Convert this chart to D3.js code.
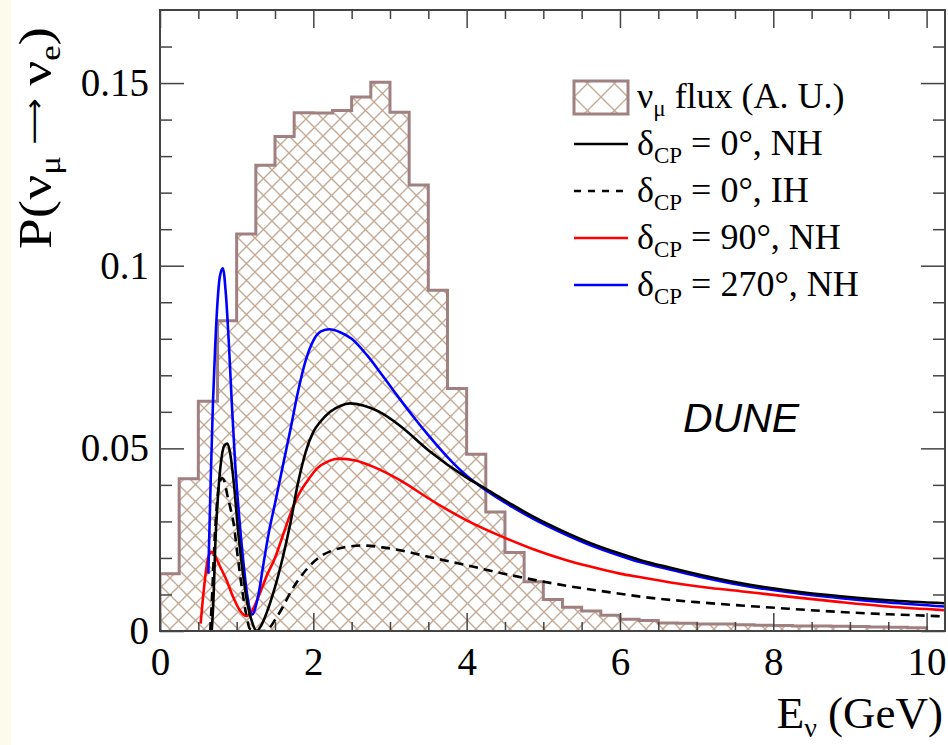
<!DOCTYPE html>
<html>
<head>
<meta charset="utf-8">
<script src="https://cdn.jsdelivr.net/npm/d3@7"></script>
<style>
  body { margin: 0; background: #fff; }
  svg { display: block; }
  text { font-family: "Liberation Serif", "Times New Roman", serif; fill: #000; }
</style>
</head>
<body>
<div id="chart"></div>
<script>
const width = 948;
const height = 745;
const margin = { top: 10, right: 3, bottom: 114, left: 160 };

// nu_mu flux, 0.25 GeV bins from 0 to 10 GeV (arbitrary units)
const fluxBinWidth = 0.25;
const fluxValues = [
  0.0157, 0.0417, 0.0629, 0.0849, 0.1087, 0.1275, 0.1354, 0.1419,
  0.1418, 0.1425, 0.1462, 0.1502, 0.142, 0.1221, 0.0933, 0.0664,
  0.0484, 0.0326, 0.0215, 0.0135, 0.0086, 0.0065, 0.0055, 0.0043,
  0.0032, 0.0029, 0.0022, 0.0021, 0.0019, 0.0019, 0.0017, 0.0016,
  0.0015, 0.0014, 0.0014, 0.0013, 0.0012, 0.0011, 0.001, 0.0009,
];

// [E (GeV), P(numu -> nue)]
const cp0NH = [
  [0.675, 0.0], [0.7, 0.01], [0.72, 0.023], [0.76, 0.038], [0.8, 0.047],
  [0.84, 0.0508], [0.88, 0.0513], [0.92, 0.048], [0.97, 0.039], [1.02, 0.027],
  [1.08, 0.016], [1.14, 0.0075], [1.2, 0.0025], [1.26, 0.0], [1.32, 0.0015],
  [1.4, 0.0055], [1.5, 0.012], [1.6, 0.02], [1.7, 0.0294], [1.8, 0.0405],
  [1.9, 0.049], [2.0, 0.0545], [2.1, 0.0575], [2.22, 0.06], [2.35, 0.0616],
  [2.48, 0.0623], [2.65, 0.0617], [2.85, 0.0601], [3.13, 0.0562], [3.5, 0.0495],
  [4.0, 0.042], [4.26, 0.0388], [4.6, 0.0345], [4.87, 0.0313], [5.27, 0.0272],
  [5.6, 0.0242], [6.0, 0.0212], [6.27, 0.0194], [6.66, 0.0173], [7.1, 0.0151],
  [7.57, 0.0131], [8.2, 0.0111], [8.88, 0.0095], [9.5, 0.0084], [10.24, 0.0076],
];

const cp0IH = [
  [0.655, 0.0], [0.68, 0.01], [0.71, 0.024], [0.74, 0.034], [0.77, 0.04],
  [0.81, 0.0418], [0.84, 0.041], [0.88, 0.037], [0.92, 0.0335], [0.96, 0.0295],
  [1.01, 0.021], [1.07, 0.0115], [1.12, 0.005], [1.175, 0.0005], [1.25, 0.0],
  [1.35, 0.0], [1.41, 0.0005], [1.5, 0.003], [1.6, 0.0065], [1.7, 0.0105],
  [1.83, 0.0147], [1.98, 0.0184], [2.1, 0.0205], [2.26, 0.0221], [2.45, 0.0231],
  [2.65, 0.0234], [2.9, 0.0229], [3.2, 0.0218], [3.525, 0.0202], [4.0, 0.018],
  [4.44, 0.0159], [4.83, 0.0142], [5.3, 0.0124], [6.0, 0.0102], [6.27, 0.0094],
  [6.57, 0.0087], [7.0, 0.0079], [7.57, 0.007], [8.2, 0.0061], [8.88, 0.0052],
  [9.5, 0.0046], [10.24, 0.004],
];

const cp90NH = [
  [0.53, 0.002], [0.57, 0.011], [0.61, 0.018], [0.65, 0.0213], [0.68, 0.0216],
  [0.72, 0.0205], [0.78, 0.0178], [0.87, 0.0138], [0.95, 0.0095], [1.04, 0.0057],
  [1.13, 0.0041], [1.2, 0.0055], [1.3, 0.0102], [1.4, 0.0155], [1.5, 0.02],
  [1.6, 0.026], [1.7, 0.032], [1.8, 0.037], [1.92, 0.041], [2.05, 0.0445],
  [2.2, 0.0465], [2.33, 0.0472], [2.55, 0.0467], [2.8, 0.0448], [3.13, 0.0413],
  [3.525, 0.036], [4.0, 0.0303], [4.5, 0.0255], [4.87, 0.0224], [5.27, 0.0196],
  [5.6, 0.0177], [6.0, 0.0157], [6.27, 0.0147], [6.66, 0.0133], [7.1, 0.012],
  [7.57, 0.0109], [8.2, 0.0094], [8.88, 0.0079], [9.5, 0.0067], [10.24, 0.0057],
];

const cp270NH = [
  [0.63, 0.0157], [0.66, 0.04], [0.69, 0.062], [0.72, 0.078], [0.75, 0.09],
  [0.78, 0.097], [0.82, 0.0993], [0.86, 0.092], [0.9, 0.078], [0.94, 0.061],
  [0.98, 0.046], [1.03, 0.032], [1.09, 0.0184], [1.14, 0.0095], [1.2, 0.0045],
  [1.28, 0.0095], [1.35, 0.0184], [1.42, 0.027], [1.5, 0.0349], [1.6, 0.045],
  [1.7, 0.055], [1.8, 0.0655], [1.9, 0.074], [2.0, 0.0795], [2.1, 0.082],
  [2.21, 0.0826], [2.35, 0.0818], [2.5, 0.08], [2.7, 0.0755], [2.9, 0.07],
  [3.1, 0.0643], [3.3, 0.0588], [3.5, 0.0536], [3.75, 0.0476], [4.0, 0.0425],
  [4.26, 0.0384], [4.6, 0.0339], [4.87, 0.0307], [5.27, 0.0266], [5.6, 0.0236],
  [6.0, 0.0206], [6.27, 0.0188], [6.66, 0.0168], [7.1, 0.0146], [7.57, 0.0126],
  [8.2, 0.0106], [8.88, 0.009], [9.5, 0.0078], [10.24, 0.0067],
];

const xMajorTicks = [0, 2, 4, 6, 8, 10];
const yMajorTicks = [0, 0.05, 0.1, 0.15];

const fluxColor = "#a08080";
const hatchColor = "#c4a994";

const xScale = d3
  .scaleLinear()
  .domain([0, 10.24])
  .range([margin.left, width - margin.right]);

const yScale = d3
  .scaleLinear()
  .domain([0, 0.17])
  .range([height - margin.bottom, margin.top]);

const svg = d3
  .select("#chart")
  .append("svg")
  .attr("width", width)
  .attr("height", height);

// faint cream strip on the left border of the original figure
svg.append("rect").attr("x", 0).attr("y", 0).attr("width", 11).attr("height", height).attr("fill", "#fdfbec");

const defs = svg.append("defs");

const addHatch = (id, s, w) => {
  defs
    .append("pattern")
    .attr("id", id)
    .attr("patternUnits", "userSpaceOnUse")
    .attr("width", s)
    .attr("height", s)
    .append("path")
    .attr("d", `M0,0L${s},${s}M0,${s}L${s},0M-2,2L2,-2M${s - 2},${s + 2}L${s + 2},${s - 2}M-2,${s - 2}L2,${s + 2}M${s - 2},-2L${s + 2},2`)
    .attr("stroke", hatchColor)
    .attr("stroke-width", w);
};
addHatch("hatch", 17, 1.4);
addHatch("hatch-legend", 27, 1.4);

defs
  .append("clipPath")
  .attr("id", "plot-clip")
  .append("rect")
  .attr("x", margin.left)
  .attr("y", margin.top)
  .attr("width", width - margin.left - margin.right)
  .attr("height", height - margin.top - margin.bottom);

const plot = svg.append("g").attr("clip-path", "url(#plot-clip)");

// flux histogram as a step outline
const fluxSteps = [[0, 0]];
fluxValues.forEach((v, i) => {
  fluxSteps.push([i * fluxBinWidth, v]);
  fluxSteps.push([(i + 1) * fluxBinWidth, v]);
});
fluxSteps.push([fluxValues.length * fluxBinWidth, 0]);

const stepLine = d3
  .line()
  .x((d) => xScale(d[0]))
  .y((d) => yScale(d[1]));

plot
  .append("path")
  .attr("d", stepLine(fluxSteps) + "Z")
  .attr("fill", "url(#hatch)")
  .attr("stroke", "none");

plot
  .append("path")
  .attr("d", stepLine(fluxSteps))
  .attr("fill", "none")
  .attr("stroke", fluxColor)
  .attr("stroke-width", 3);

// probability curves
const curveLine = d3
  .line()
  .x((d) => xScale(d[0]))
  .y((d) => yScale(d[1]))
  .curve(d3.curveMonotoneX);

const series = [
  { data: cp0IH, color: "#000", dash: "9,6" },
  { data: cp90NH, color: "#ff0000", dash: null },
  { data: cp270NH, color: "#0000ff", dash: null },
  { data: cp0NH, color: "#000", dash: null },
];

series.forEach((s) => {
  plot
    .append("path")
    .attr("d", curveLine(s.data))
    .attr("fill", "none")
    .attr("stroke", s.color)
    .attr("stroke-width", 2.6)
    .attr("stroke-dasharray", s.dash);
});

// axes: ticks on all four sides, pointing inward
const xMinorTicks = d3.range(0.5, 10.01, 0.5).filter((d) => d % 2 !== 0);
const yMinorTicks = d3.range(0.01, 0.165, 0.01).filter((d) => Math.abs(d / 0.05 - Math.round(d / 0.05)) > 1e-6);

const axisColor = "#444";
const bottomY = height - margin.bottom;
const rightX = width - margin.right;

const styleAxis = (g) => {
  g.select(".domain").remove();
  g.selectAll("line").attr("stroke", axisColor).attr("stroke-width", 1.5);
  g.selectAll("text")
    .style("font-family", '"Liberation Serif", serif')
    .style("font-size", "39px")
    .attr("fill", "#000");
};

svg
  .append("g")
  .attr("transform", `translate(0, ${bottomY})`)
  .call(d3.axisBottom(xScale).tickValues(xMajorTicks).tickSize(-18).tickPadding(16).tickFormat(d3.format("d")))
  .call(styleAxis);

svg
  .append("g")
  .attr("transform", `translate(0, ${bottomY})`)
  .call(d3.axisBottom(xScale).tickValues(xMinorTicks).tickSize(-9).tickFormat(""))
  .call(styleAxis);

svg
  .append("g")
  .attr("transform", `translate(0, ${margin.top})`)
  .call(d3.axisTop(xScale).tickValues(xMajorTicks).tickSize(-18).tickFormat(""))
  .call(styleAxis);

svg
  .append("g")
  .attr("transform", `translate(0, ${margin.top})`)
  .call(d3.axisTop(xScale).tickValues(xMinorTicks).tickSize(-9).tickFormat(""))
  .call(styleAxis);

svg
  .append("g")
  .attr("transform", `translate(${margin.left}, 0)`)
  .call(
    d3
      .axisLeft(yScale)
      .tickValues(yMajorTicks)
      .tickSize(-24)
      .tickPadding(11)
      .tickFormat((d) => (d === 0 ? "0" : d3.format(".2~f")(d)))
  )
  .call(styleAxis);

svg
  .append("g")
  .attr("transform", `translate(${margin.left}, 0)`)
  .call(d3.axisLeft(yScale).tickValues(yMinorTicks).tickSize(-12).tickFormat(""))
  .call(styleAxis);

svg
  .append("g")
  .attr("transform", `translate(${rightX}, 0)`)
  .call(d3.axisRight(yScale).tickValues(yMajorTicks).tickSize(-24).tickFormat(""))
  .call(styleAxis);

svg
  .append("g")
  .attr("transform", `translate(${rightX}, 0)`)
  .call(d3.axisRight(yScale).tickValues(yMinorTicks).tickSize(-12).tickFormat(""))
  .call(styleAxis);

// frame
svg
  .append("rect")
  .attr("x", margin.left)
  .attr("y", margin.top)
  .attr("width", rightX - margin.left)
  .attr("height", bottomY - margin.top)
  .attr("fill", "none")
  .attr("stroke", axisColor)
  .attr("stroke-width", 2);

// axis titles
const xTitle = svg
  .append("text")
  .attr("x", 943)
  .attr("y", 728)
  .attr("text-anchor", "end")
  .style("font-size", "45px");
xTitle.append("tspan").text("E");
xTitle.append("tspan").attr("dy", 9).style("font-size", "28px").text("ν");
xTitle.append("tspan").attr("dy", -9).text(" (GeV)");

const yTitle = svg
  .append("text")
  .attr("transform", "translate(51, 27) rotate(-90) scale(1.2, 1)")
  .attr("text-anchor", "end")
  .style("font-size", "46px");
yTitle.append("tspan").text("P(ν");
yTitle.append("tspan").attr("dy", 9).style("font-size", "29px").text("μ");
yTitle
  .append("tspan")
  .attr("dy", -17)
  .attr("dx", 10)
  .style("font-family", '"DejaVu Sans", sans-serif')
  .style("font-size", "27px")
  .text("⟶");
yTitle.append("tspan").attr("dy", 8).attr("dx", 10).text("ν");
yTitle.append("tspan").attr("dy", 9).style("font-size", "29px").text("e");
yTitle.append("tspan").attr("dy", -9).text(")");

// DUNE label
svg
  .append("text")
  .attr("x", 683)
  .attr("y", 432)
  .style("font-family", '"Liberation Sans", Arial, sans-serif')
  .style("font-style", "italic")
  .style("font-size", "41px")
  .text("DUNE");

// legend
const legendItems = [
  { sym: "ν", sub: "μ", rest: " flux (A. U.)", kind: "box" },
  { sym: "δ", sub: "CP", rest: " = 0°, NH", kind: "line", color: "#000", dash: null },
  { sym: "δ", sub: "CP", rest: " = 0°, IH", kind: "line", color: "#000", dash: "7,7" },
  { sym: "δ", sub: "CP", rest: " = 90°, NH", kind: "line", color: "#ff0000", dash: null },
  { sym: "δ", sub: "CP", rest: " = 270°, NH", kind: "line", color: "#0000ff", dash: null },
];

const legend = svg.append("g").attr("transform", "translate(574, 97)");
const rowGap = 47;

legendItems.forEach((item, i) => {
  const row = legend.append("g").attr("transform", `translate(0, ${i * rowGap})`);
  if (item.kind === "box") {
    row
      .append("rect")
      .attr("x", 0)
      .attr("y", -16)
      .attr("width", 54)
      .attr("height", 33)
      .attr("fill", "url(#hatch-legend)")
      .attr("stroke", fluxColor)
      .attr("stroke-width", 3);
  } else {
    row
      .append("line")
      .attr("x1", 0)
      .attr("x2", 54)
      .attr("y1", 0)
      .attr("y2", 0)
      .attr("stroke", item.color)
      .attr("stroke-width", 2.6)
      .attr("stroke-dasharray", item.dash);
  }
  const t = row.append("text").attr("x", 63).attr("y", 11).style("font-size", "36px");
  t.append("tspan").text(item.sym);
  t.append("tspan").attr("dy", 8).style("font-size", "23px").text(item.sub);
  t.append("tspan").attr("dy", -8).text(item.rest);
});
</script>
</body>
</html>
